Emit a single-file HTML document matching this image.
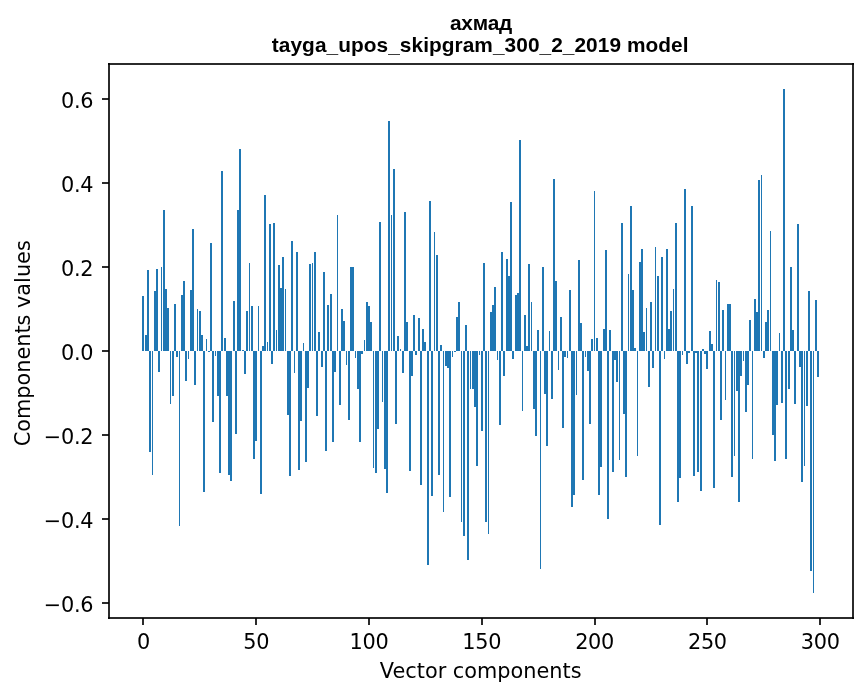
<!DOCTYPE html>
<html lang="ru"><head><meta charset="utf-8"><title>ахмад</title>
<style>
html,body{margin:0;padding:0;background:#fff;}
body{width:867px;height:696px;overflow:hidden;}
svg{display:block;}
.t{font-family:"DejaVu Sans","Liberation Sans",sans-serif;font-size:20.83px;fill:#000;}
.ttl{font-family:"Liberation Sans","DejaVu Sans",sans-serif;font-weight:bold;font-size:20.83px;fill:#000;}
</style></head>
<body>
<svg width="867" height="696" viewBox="0 0 867 696">
<rect width="867" height="696" fill="#fff"/>
<g fill="#1f77b4" shape-rendering="crispEdges">
<rect x="142" y="296" width="2" height="55"/>
<rect x="145" y="335" width="2" height="16"/>
<rect x="147" y="270" width="2" height="81"/>
<rect x="149" y="351" width="2" height="101"/>
<rect x="152" y="351" width="1" height="124"/>
<rect x="154" y="291" width="2" height="60"/>
<rect x="156" y="269" width="2" height="82"/>
<rect x="158" y="351" width="2" height="21"/>
<rect x="161" y="267" width="1" height="84"/>
<rect x="163" y="210" width="2" height="141"/>
<rect x="165" y="289" width="2" height="62"/>
<rect x="167" y="308" width="2" height="43"/>
<rect x="170" y="351" width="1" height="53"/>
<rect x="172" y="351" width="2" height="45"/>
<rect x="174" y="304" width="2" height="47"/>
<rect x="176" y="351" width="2" height="6"/>
<rect x="179" y="351" width="1" height="175"/>
<rect x="181" y="295" width="2" height="56"/>
<rect x="183" y="281" width="2" height="70"/>
<rect x="185" y="351" width="2" height="30"/>
<rect x="188" y="351" width="1" height="8"/>
<rect x="190" y="290" width="2" height="61"/>
<rect x="192" y="229" width="2" height="122"/>
<rect x="194" y="351" width="2" height="34"/>
<rect x="197" y="309" width="1" height="42"/>
<rect x="199" y="311" width="2" height="40"/>
<rect x="201" y="335" width="2" height="16"/>
<rect x="203" y="351" width="2" height="141"/>
<rect x="206" y="339" width="1" height="12"/>
<rect x="208" y="351" width="2" height="1"/>
<rect x="210" y="243" width="2" height="108"/>
<rect x="212" y="351" width="2" height="71"/>
<rect x="215" y="351" width="1" height="5"/>
<rect x="217" y="351" width="2" height="45"/>
<rect x="219" y="351" width="2" height="122"/>
<rect x="221" y="171" width="2" height="180"/>
<rect x="224" y="338" width="2" height="13"/>
<rect x="226" y="351" width="2" height="45"/>
<rect x="228" y="351" width="2" height="124"/>
<rect x="230" y="351" width="2" height="130"/>
<rect x="233" y="301" width="2" height="50"/>
<rect x="235" y="351" width="2" height="83"/>
<rect x="237" y="210" width="2" height="141"/>
<rect x="239" y="149" width="2" height="202"/>
<rect x="242" y="350" width="2" height="1"/>
<rect x="244" y="351" width="2" height="23"/>
<rect x="246" y="311" width="2" height="40"/>
<rect x="249" y="263" width="1" height="88"/>
<rect x="251" y="306" width="2" height="45"/>
<rect x="253" y="351" width="2" height="108"/>
<rect x="255" y="351" width="2" height="90"/>
<rect x="258" y="306" width="1" height="45"/>
<rect x="260" y="351" width="2" height="143"/>
<rect x="262" y="346" width="2" height="5"/>
<rect x="264" y="195" width="2" height="156"/>
<rect x="267" y="342" width="1" height="9"/>
<rect x="269" y="224" width="2" height="127"/>
<rect x="271" y="351" width="2" height="13"/>
<rect x="273" y="223" width="2" height="128"/>
<rect x="276" y="330" width="1" height="21"/>
<rect x="278" y="265" width="2" height="86"/>
<rect x="280" y="288" width="2" height="63"/>
<rect x="282" y="257" width="2" height="94"/>
<rect x="285" y="289" width="1" height="62"/>
<rect x="287" y="351" width="2" height="64"/>
<rect x="289" y="351" width="2" height="125"/>
<rect x="291" y="241" width="2" height="110"/>
<rect x="294" y="351" width="1" height="22"/>
<rect x="296" y="252" width="2" height="99"/>
<rect x="298" y="351" width="2" height="119"/>
<rect x="300" y="351" width="2" height="70"/>
<rect x="303" y="343" width="1" height="8"/>
<rect x="305" y="351" width="2" height="111"/>
<rect x="307" y="351" width="2" height="37"/>
<rect x="309" y="264" width="2" height="87"/>
<rect x="312" y="263" width="1" height="88"/>
<rect x="314" y="252" width="2" height="99"/>
<rect x="316" y="351" width="2" height="65"/>
<rect x="318" y="332" width="2" height="19"/>
<rect x="321" y="351" width="2" height="16"/>
<rect x="323" y="272" width="2" height="79"/>
<rect x="325" y="351" width="2" height="100"/>
<rect x="327" y="305" width="2" height="46"/>
<rect x="330" y="294" width="2" height="57"/>
<rect x="332" y="351" width="2" height="91"/>
<rect x="334" y="351" width="2" height="21"/>
<rect x="337" y="215" width="1" height="136"/>
<rect x="339" y="351" width="2" height="54"/>
<rect x="341" y="309" width="2" height="42"/>
<rect x="343" y="321" width="2" height="30"/>
<rect x="346" y="351" width="1" height="14"/>
<rect x="348" y="351" width="2" height="69"/>
<rect x="350" y="267" width="2" height="84"/>
<rect x="352" y="267" width="2" height="84"/>
<rect x="355" y="351" width="1" height="7"/>
<rect x="357" y="351" width="2" height="38"/>
<rect x="359" y="351" width="2" height="91"/>
<rect x="361" y="351" width="2" height="3"/>
<rect x="364" y="340" width="1" height="11"/>
<rect x="366" y="302" width="2" height="49"/>
<rect x="368" y="306" width="2" height="45"/>
<rect x="370" y="322" width="2" height="29"/>
<rect x="373" y="351" width="1" height="117"/>
<rect x="375" y="351" width="2" height="122"/>
<rect x="377" y="351" width="2" height="78"/>
<rect x="379" y="222" width="2" height="129"/>
<rect x="382" y="351" width="1" height="51"/>
<rect x="384" y="351" width="2" height="118"/>
<rect x="386" y="351" width="2" height="142"/>
<rect x="388" y="121" width="2" height="230"/>
<rect x="391" y="215" width="1" height="136"/>
<rect x="393" y="169" width="2" height="182"/>
<rect x="395" y="351" width="2" height="73"/>
<rect x="397" y="336" width="2" height="15"/>
<rect x="400" y="349" width="1" height="2"/>
<rect x="402" y="351" width="2" height="22"/>
<rect x="404" y="212" width="2" height="139"/>
<rect x="406" y="322" width="2" height="29"/>
<rect x="409" y="351" width="2" height="120"/>
<rect x="411" y="351" width="2" height="25"/>
<rect x="413" y="315" width="2" height="36"/>
<rect x="415" y="351" width="2" height="4"/>
<rect x="418" y="318" width="2" height="33"/>
<rect x="420" y="351" width="2" height="134"/>
<rect x="422" y="329" width="2" height="22"/>
<rect x="424" y="342" width="2" height="9"/>
<rect x="427" y="351" width="2" height="214"/>
<rect x="429" y="201" width="2" height="150"/>
<rect x="431" y="351" width="2" height="145"/>
<rect x="434" y="232" width="1" height="119"/>
<rect x="436" y="255" width="2" height="96"/>
<rect x="438" y="351" width="2" height="124"/>
<rect x="440" y="345" width="2" height="6"/>
<rect x="443" y="351" width="1" height="161"/>
<rect x="445" y="351" width="2" height="15"/>
<rect x="447" y="351" width="2" height="17"/>
<rect x="449" y="351" width="2" height="146"/>
<rect x="452" y="351" width="1" height="6"/>
<rect x="454" y="351" width="2" height="1"/>
<rect x="456" y="317" width="2" height="34"/>
<rect x="458" y="302" width="2" height="49"/>
<rect x="461" y="351" width="1" height="171"/>
<rect x="463" y="351" width="2" height="185"/>
<rect x="465" y="325" width="2" height="26"/>
<rect x="467" y="351" width="2" height="209"/>
<rect x="470" y="351" width="1" height="38"/>
<rect x="472" y="351" width="2" height="38"/>
<rect x="474" y="351" width="2" height="56"/>
<rect x="476" y="351" width="2" height="115"/>
<rect x="479" y="351" width="1" height="4"/>
<rect x="481" y="351" width="2" height="80"/>
<rect x="483" y="263" width="2" height="88"/>
<rect x="485" y="351" width="2" height="171"/>
<rect x="488" y="351" width="1" height="183"/>
<rect x="490" y="312" width="2" height="39"/>
<rect x="492" y="305" width="2" height="46"/>
<rect x="494" y="287" width="2" height="64"/>
<rect x="497" y="351" width="1" height="9"/>
<rect x="499" y="351" width="2" height="74"/>
<rect x="501" y="252" width="2" height="99"/>
<rect x="503" y="351" width="2" height="25"/>
<rect x="506" y="259" width="2" height="92"/>
<rect x="508" y="276" width="2" height="75"/>
<rect x="510" y="202" width="2" height="149"/>
<rect x="512" y="351" width="2" height="8"/>
<rect x="515" y="295" width="2" height="56"/>
<rect x="517" y="293" width="2" height="58"/>
<rect x="519" y="140" width="2" height="211"/>
<rect x="522" y="351" width="1" height="60"/>
<rect x="524" y="315" width="2" height="36"/>
<rect x="526" y="346" width="2" height="5"/>
<rect x="528" y="264" width="2" height="87"/>
<rect x="531" y="302" width="1" height="49"/>
<rect x="533" y="351" width="2" height="58"/>
<rect x="535" y="351" width="2" height="85"/>
<rect x="537" y="330" width="2" height="21"/>
<rect x="540" y="351" width="1" height="218"/>
<rect x="542" y="267" width="2" height="84"/>
<rect x="544" y="351" width="2" height="43"/>
<rect x="546" y="351" width="2" height="95"/>
<rect x="549" y="331" width="1" height="20"/>
<rect x="551" y="351" width="2" height="48"/>
<rect x="553" y="179" width="2" height="172"/>
<rect x="555" y="281" width="2" height="70"/>
<rect x="558" y="351" width="1" height="19"/>
<rect x="560" y="317" width="2" height="34"/>
<rect x="562" y="351" width="2" height="77"/>
<rect x="564" y="351" width="2" height="6"/>
<rect x="567" y="351" width="1" height="7"/>
<rect x="569" y="290" width="2" height="61"/>
<rect x="571" y="351" width="2" height="156"/>
<rect x="573" y="351" width="2" height="144"/>
<rect x="576" y="351" width="1" height="44"/>
<rect x="578" y="260" width="2" height="91"/>
<rect x="580" y="323" width="2" height="28"/>
<rect x="582" y="351" width="2" height="129"/>
<rect x="585" y="351" width="1" height="6"/>
<rect x="587" y="351" width="2" height="20"/>
<rect x="589" y="351" width="2" height="73"/>
<rect x="591" y="339" width="2" height="12"/>
<rect x="594" y="191" width="1" height="160"/>
<rect x="596" y="338" width="2" height="13"/>
<rect x="598" y="351" width="2" height="144"/>
<rect x="600" y="351" width="2" height="116"/>
<rect x="603" y="329" width="2" height="22"/>
<rect x="605" y="250" width="2" height="101"/>
<rect x="607" y="351" width="2" height="168"/>
<rect x="609" y="330" width="2" height="21"/>
<rect x="612" y="351" width="2" height="121"/>
<rect x="614" y="351" width="2" height="9"/>
<rect x="616" y="351" width="2" height="31"/>
<rect x="619" y="351" width="1" height="109"/>
<rect x="621" y="223" width="2" height="128"/>
<rect x="623" y="351" width="2" height="63"/>
<rect x="625" y="351" width="2" height="126"/>
<rect x="628" y="274" width="1" height="77"/>
<rect x="630" y="206" width="2" height="145"/>
<rect x="632" y="290" width="2" height="61"/>
<rect x="634" y="348" width="2" height="3"/>
<rect x="637" y="351" width="1" height="105"/>
<rect x="639" y="262" width="2" height="89"/>
<rect x="641" y="249" width="2" height="102"/>
<rect x="643" y="332" width="2" height="19"/>
<rect x="646" y="308" width="1" height="43"/>
<rect x="648" y="351" width="2" height="36"/>
<rect x="650" y="302" width="2" height="49"/>
<rect x="652" y="351" width="2" height="17"/>
<rect x="655" y="247" width="1" height="104"/>
<rect x="657" y="276" width="2" height="75"/>
<rect x="659" y="351" width="2" height="174"/>
<rect x="661" y="257" width="2" height="94"/>
<rect x="664" y="351" width="1" height="8"/>
<rect x="666" y="249" width="2" height="102"/>
<rect x="668" y="329" width="2" height="22"/>
<rect x="670" y="311" width="2" height="40"/>
<rect x="673" y="289" width="1" height="62"/>
<rect x="675" y="223" width="2" height="128"/>
<rect x="677" y="351" width="2" height="151"/>
<rect x="679" y="351" width="2" height="127"/>
<rect x="682" y="351" width="1" height="4"/>
<rect x="684" y="189" width="2" height="162"/>
<rect x="686" y="351" width="2" height="13"/>
<rect x="688" y="351" width="2" height="2"/>
<rect x="691" y="206" width="2" height="145"/>
<rect x="693" y="351" width="2" height="125"/>
<rect x="695" y="351" width="2" height="2"/>
<rect x="697" y="351" width="2" height="121"/>
<rect x="700" y="351" width="2" height="140"/>
<rect x="702" y="349" width="2" height="2"/>
<rect x="704" y="351" width="2" height="3"/>
<rect x="706" y="351" width="2" height="18"/>
<rect x="709" y="331" width="2" height="20"/>
<rect x="711" y="344" width="2" height="7"/>
<rect x="713" y="351" width="2" height="137"/>
<rect x="716" y="280" width="1" height="71"/>
<rect x="718" y="282" width="2" height="69"/>
<rect x="720" y="351" width="2" height="69"/>
<rect x="722" y="310" width="2" height="41"/>
<rect x="725" y="351" width="1" height="49"/>
<rect x="727" y="304" width="2" height="47"/>
<rect x="729" y="304" width="2" height="47"/>
<rect x="731" y="351" width="2" height="126"/>
<rect x="734" y="351" width="1" height="105"/>
<rect x="736" y="351" width="2" height="40"/>
<rect x="738" y="351" width="2" height="151"/>
<rect x="740" y="351" width="2" height="25"/>
<rect x="743" y="351" width="1" height="10"/>
<rect x="745" y="351" width="2" height="61"/>
<rect x="747" y="351" width="2" height="34"/>
<rect x="749" y="320" width="2" height="31"/>
<rect x="752" y="351" width="1" height="108"/>
<rect x="754" y="299" width="2" height="52"/>
<rect x="756" y="312" width="2" height="39"/>
<rect x="758" y="180" width="2" height="171"/>
<rect x="761" y="175" width="1" height="176"/>
<rect x="763" y="351" width="2" height="7"/>
<rect x="765" y="322" width="2" height="29"/>
<rect x="767" y="310" width="2" height="41"/>
<rect x="770" y="231" width="1" height="120"/>
<rect x="772" y="351" width="2" height="84"/>
<rect x="774" y="351" width="2" height="110"/>
<rect x="776" y="351" width="2" height="54"/>
<rect x="779" y="333" width="1" height="18"/>
<rect x="781" y="351" width="2" height="52"/>
<rect x="783" y="89" width="2" height="262"/>
<rect x="785" y="351" width="2" height="108"/>
<rect x="788" y="351" width="2" height="38"/>
<rect x="790" y="267" width="2" height="84"/>
<rect x="792" y="330" width="2" height="21"/>
<rect x="794" y="351" width="2" height="53"/>
<rect x="797" y="224" width="2" height="127"/>
<rect x="799" y="351" width="2" height="16"/>
<rect x="801" y="351" width="2" height="131"/>
<rect x="804" y="351" width="1" height="115"/>
<rect x="806" y="351" width="2" height="55"/>
<rect x="808" y="291" width="2" height="60"/>
<rect x="810" y="351" width="2" height="220"/>
<rect x="813" y="351" width="1" height="242"/>
<rect x="815" y="300" width="2" height="51"/>
<rect x="817" y="351" width="2" height="26"/>
</g>
<g fill="#000" fill-opacity="0.833" shape-rendering="crispEdges">
<rect x="108" y="63" width="746" height="2"/>
<rect x="108" y="617" width="746" height="2"/>
<rect x="108" y="63" width="2" height="556"/>
<rect x="852" y="63" width="2" height="556"/>
<rect x="142" y="618" width="2" height="7"/>
<rect x="255" y="618" width="2" height="7"/>
<rect x="368" y="618" width="2" height="7"/>
<rect x="481" y="618" width="2" height="7"/>
<rect x="594" y="618" width="2" height="7"/>
<rect x="706" y="618" width="2" height="7"/>
<rect x="819" y="618" width="2" height="7"/>
<rect x="102" y="98" width="7" height="2"/>
<rect x="102" y="182" width="7" height="2"/>
<rect x="102" y="266" width="7" height="2"/>
<rect x="102" y="350" width="7" height="2"/>
<rect x="102" y="434" width="7" height="2"/>
<rect x="102" y="518" width="7" height="2"/>
<rect x="102" y="602" width="7" height="2"/>
</g>
<g class="t">
<text x="143.39" y="648.5" text-anchor="middle" letter-spacing="-0.3">0</text>
<text x="256.19" y="648.5" text-anchor="middle" letter-spacing="-0.3">50</text>
<text x="368.99" y="648.5" text-anchor="middle" letter-spacing="-0.3">100</text>
<text x="481.79" y="648.5" text-anchor="middle" letter-spacing="-0.3">150</text>
<text x="594.60" y="648.5" text-anchor="middle" letter-spacing="-0.3">200</text>
<text x="707.40" y="648.5" text-anchor="middle" letter-spacing="-0.3">250</text>
<text x="820.20" y="648.5" text-anchor="middle" letter-spacing="-0.3">300</text>
<text x="93.2" y="107.60" text-anchor="end" letter-spacing="-0.3">0.6</text>
<text x="93.2" y="191.60" text-anchor="end" letter-spacing="-0.3">0.4</text>
<text x="93.2" y="275.60" text-anchor="end" letter-spacing="-0.3">0.2</text>
<text x="93.2" y="359.60" text-anchor="end" letter-spacing="-0.3">0.0</text>
<text x="93.2" y="443.60" text-anchor="end" letter-spacing="-0.3">−0.2</text>
<text x="93.2" y="527.60" text-anchor="end" letter-spacing="-0.3">−0.4</text>
<text x="93.2" y="611.60" text-anchor="end" letter-spacing="-0.3">−0.6</text>
<text x="480.7" y="654.0" text-anchor="middle" dy="24">Vector components</text>
<text transform="translate(30,343.3) rotate(-90)" text-anchor="middle">Components values</text>
</g>
<g class="ttl" text-anchor="middle">
<text x="481.0" y="30" letter-spacing="-0.2">ахмад</text>
<text x="480.2" y="52.3" letter-spacing="0.063">tayga_upos_skipgram_300_2_2019 model</text>
</g>
</svg>
</body></html>
